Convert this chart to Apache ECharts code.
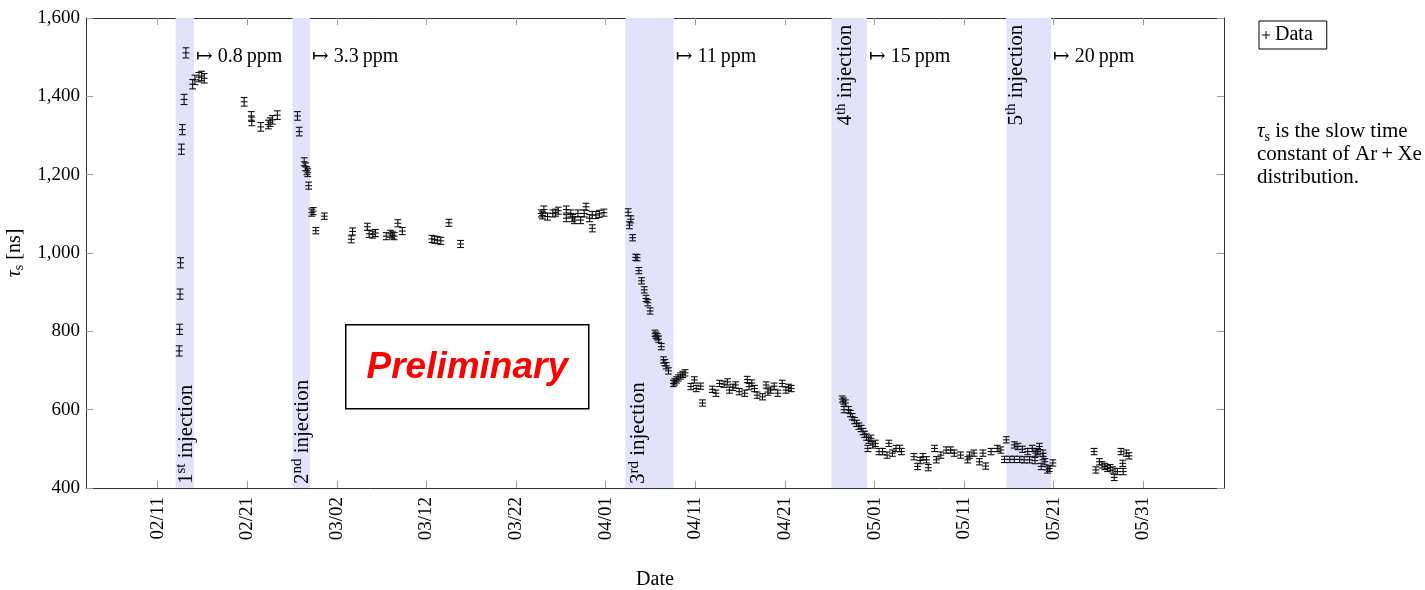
<!DOCTYPE html>
<html><head><meta charset="utf-8">
<script src="https://cdn.jsdelivr.net/npm/echarts@6/dist/echarts.min.js"></script>
<style>html,body{margin:0;padding:0;background:#fff}#c{width:1425px;height:590px}</style>
</head><body><div id="c"></div>
<script>
// x values: days since 2020-02-11 ; [day, tau_s (ns), error (ns)]
const feb13 = [[2.4,750,13],[2.45,805,13],[2.5,895,13],[2.55,975,13],[2.65,1265,13],[2.75,1315,13],[2.95,1392,13],[3.15,1511,13]];
const feb15 = [[3.9,1431,12],[4.15,1442,12],[4.6,1449,12],[4.9,1452,12],[5.2,1446,12]];
const feb21 = [[9.65,1386,11],[10.45,1350,11],[10.5,1336,11],[11.5,1322,11],[12.35,1328,11],[12.55,1334,11],[12.8,1340,11],[13.35,1352,11]];
const feb27 = [[15.6,1350,11],[15.8,1310,11],[16.35,1233,10],[16.5,1220,10],[16.65,1210,10],[16.75,1205,10],[16.85,1172,9],[17.2,1103,9],[17.35,1107,9],[17.65,1057,8],[18.6,1094,8]];
const march = [[21.6,1035,9],[21.75,1055,9],[23.4,1067,9],[23.6,1049,9],[24.0,1047,9],[24.3,1051,9],[25.5,1043,9],[26.0,1049,9],[26.2,1045,9],[26.4,1043,9],[26.8,1076,9],[27.3,1056,9],[30.6,1036,9],[30.9,1034,9],[31.2,1033,9],[31.6,1031,9],[32.5,1077,9],[33.8,1023,9]];
const lateMarch = [[42.8,1101,9],[42.95,1096,9],[43.1,1111,9],[43.5,1093,9],[44.1,1101,9],[44.4,1103,9],[44.7,1108,9],[45.6,1111,9],[45.6,1089,9],[46.1,1101,9],[46.3,1089,9],[46.5,1084,9],[46.9,1101,9],[47.2,1084,9],[47.6,1101,9],[47.8,1118,9],[48.2,1089,9],[48.5,1097,9],[48.5,1063,9],[48.9,1097,9],[49.3,1100,9],[49.8,1103,9]];
const thirdDecay = [[52.5,1104,9],[52.65,1071,9],[52.8,1086,9],[53.0,1039,8],[53.35,989,8],[53.5,988,8],[53.7,955,8],[54.0,929,8],[54.3,906,8],[54.5,884,8],[54.7,873,8],[54.95,852,8],[55.5,795,8],[55.6,790,8],[55.75,786,8],[55.9,780,8],[56.2,761,8],[56.45,727,8],[56.6,720,8],[56.75,712,8],[57.0,699,8]];
const aprilPlateau = [[57.55,667,8],[57.7,671,8],[57.9,676,8],[58.1,681,8],[58.35,686,8],[58.6,690,8],[58.85,694,8],[59.5,659,8],[59.9,676,8],[60.1,654,8],[60.6,660,8],[60.8,617,8],[61.9,652,8],[62.3,642,8],[62.7,667,8],[63.2,665,8],[63.6,671,8],[63.8,650,8],[64.2,657,8],[64.5,663,8],[64.9,646,8],[65.5,642,8],[65.8,677,8],[66.0,659,8],[66.3,668,8],[66.6,654,8],[66.9,637,8],[67.5,633,8],[67.9,663,8],[68.1,645,8],[68.4,650,8],[68.8,660,8],[69.2,642,8],[69.7,667,8],[70.1,650,8],[70.4,657,8],[70.7,654,8]];
const fourthDecay = [[76.4,627,8],[76.55,622,8],[76.75,617,8],[76.6,600,8],[77.1,600,8],[77.3,590,8],[77.5,582,8],[77.75,572,8],[78.0,565,8],[78.25,558,8],[78.5,552,8],[78.7,544,8],[78.9,537,8],[79.1,530,8],[79.25,501,8],[79.35,522,8],[79.6,527,8],[79.8,510,8],[80.1,514,8],[80.5,493,8],[80.9,493,8],[81.4,484,8],[81.6,514,8],[82.0,489,8],[82.4,501,8],[82.8,501,8],[83.0,493,8]];
const earlyMay = [[84.4,480,8],[84.8,455,8],[85.1,470,8],[85.4,480,8],[85.8,472,8],[86.0,452,8],[86.7,501,8],[86.9,472,8],[87.4,484,8],[88.0,497,8],[88.5,497,8],[88.9,489,8],[89.6,484,8],[90.4,472,8],[90.6,484,8],[91.1,489,8],[91.7,467,8],[92.1,489,8],[92.4,456,8],[93.0,493,8],[93.7,501,8],[94.1,497,8]];
const fifthPeriod = [[94.7,523,8],[94.5,473,8],[95.1,473,8],[95.6,473,8],[96.2,473,8],[96.7,472,8],[97.3,472,8],[97.9,470,8],[95.6,510,8],[96.0,506,8],[96.5,499,8],[97.1,493,8],[97.6,501,8],[98.0,489,8],[98.2,493,8],[98.4,506,8],[98.6,455,8],[98.8,489,8],[98.8,480,8],[99.0,467,8],[99.3,446,8],[99.5,450,8],[99.9,464,8]];
const lateMay = [[104.5,493,8],[104.7,446,8],[105.1,467,8],[105.4,459,8],[105.7,455,8],[106.0,450,8],[106.3,452,8],[106.6,446,8],[106.75,427,8],[107.1,442,8],[107.5,493,8],[107.7,463,8],[107.75,442,8],[108.1,489,8],[108.4,482,8]];

// injection periods
const bandStart = [2.0, 15.05, 52.2, 75.2, 94.7];
const bandEnd = [4.05, 17.0, 57.6, 79.15, 99.7];
const injNumber = ['1','2','3','4','5'];
const injSuffix = ['st','nd','rd','th','th'];
const injLabelDay = [3.05, 16.0, 53.6, 76.7, 95.7];
const injLabelTop = [false, false, false, true, true];
const ppmLabels = ['0.8', '3.3', '11', '15', '20'];
const ppmLabelValue = 1500;

// axes
const xMin = -8, xMax = 119;
const dayTicks = [0,10,20,30,40,50,60,70,80,90,100,110];
const yMin = 400, yMax = 1600, yStep = 200;

const SERIF = '"Liberation Serif", "DejaVu Serif", serif';
const allData = [].concat(feb13, feb15, feb21, feb27, march, lateMarch, thirdDecay, aprilPlateau, fourthDecay, earlyMay, fifthPeriod, lateMay);

function fmtDate(v) {
  const d = new Date(Date.UTC(2020, 1, 11) + v * 86400000);
  const mm = String(d.getUTCMonth() + 1).padStart(2, '0');
  const dd = String(d.getUTCDate()).padStart(2, '0');
  return mm + '/' + dd;
}
function fmtNum(v) { return String(v).replace(/\B(?=(\d{3})+(?!\d))/g, ','); }

function renderPoint(params, api) {
  const d = api.value(0), v = api.value(1), e = api.value(2);
  const c = api.coord([d, v]);
  const t = api.coord([d, v + e])[1];
  const b = api.coord([d, v - e])[1];
  const w = 3.4;
  const st = {stroke: '#111', lineWidth: 1.1, fill: null};
  return {type: 'group', children: [
    {type: 'line', shape: {x1: c[0], y1: t, x2: c[0], y2: b}, style: st},
    {type: 'line', shape: {x1: c[0] - w, y1: t, x2: c[0] + w, y2: t}, style: st},
    {type: 'line', shape: {x1: c[0] - w, y1: b, x2: c[0] + w, y2: b}, style: st},
    {type: 'line', shape: {x1: c[0] - w, y1: c[1], x2: c[0] + w, y2: c[1]}, style: st}
  ]};
}

const richInj = {
  n: {fontFamily: SERIF, fontSize: 21, lineHeight: 23, verticalAlign: 'bottom', fill: '#000', color: '#000'},
  s: {fontFamily: SERIF, fontSize: 15, lineHeight: 15, verticalAlign: 'top', fill: '#000', color: '#000'}
};

function renderBand(params, api) {
  const i = api.value(2);
  const cs = params.coordSys;
  const x0 = api.coord([api.value(0), yMax])[0];
  const x1 = api.coord([api.value(1), yMax])[0];
  const pp = api.coord([api.value(1), ppmLabelValue]);
  const top = injLabelTop[i];
  const lp = api.coord([injLabelDay[i], top ? 1583 : 410]);
  return {type: 'group', children: [
    {type: 'rect', shape: {x: x0, y: cs.y, width: x1 - x0, height: cs.height}, style: {fill: '#e2e2fb'}},
    {type: 'text', x: pp[0] + 2, y: pp[1], style: {text: '\u21A6 ' + ppmLabels[i] + '\u2009ppm', font: '20px ' + SERIF, fill: '#000', align: 'left', verticalAlign: 'middle'}},
    {type: 'text', x: lp[0], y: lp[1], rotation: Math.PI / 2, style: {text: '{n|' + injNumber[i] + '}{s|' + injSuffix[i] + '}{n| injection}', rich: richInj, fill: '#000', align: top ? 'right' : 'left', verticalAlign: 'middle'}}
  ]};
}

const tickLine = {color: '#999', width: 1};
const axisLine = {show: true, onZero: false, lineStyle: {color: '#333', width: 1}};

const option = {
  animation: false,
  backgroundColor: '#fff',
  grid: {left: 86, right: 201, top: 18, bottom: 102, containLabel: false, outerBoundsMode: 'none'},
  legend: {
    left: 1259, top: 21, selectedMode: false,
    data: [{name: 'Data', icon: 'path://M0,3.5H3.5V0H4.5V3.5H8V4.5H4.5V8H3.5V4.5H0Z'}],
    itemWidth: 8, itemHeight: 8, padding: [4, 14, 4, 3],
    borderColor: '#000', borderWidth: 1, borderRadius: 0,
    itemStyle: {color: '#000'},
    textStyle: {fontFamily: SERIF, fontSize: 20, color: '#000'}
  },
  xAxis: [
    {type: 'value', min: xMin, max: xMax, position: 'bottom',
      name: 'Date', nameLocation: 'middle', nameGap: 82,
      nameTextStyle: {fontFamily: SERIF, fontSize: 20, color: '#000'},
      axisLine: axisLine,
      axisTick: {show: true, inside: true, length: 7, customValues: dayTicks, lineStyle: tickLine},
      axisLabel: {customValues: dayTicks, rotate: 90, margin: 9, formatter: fmtDate, color: '#000', fontFamily: SERIF, fontSize: 19},
      splitLine: {show: false}},
    {type: 'value', min: xMin, max: xMax, position: 'top',
      axisLine: axisLine,
      axisTick: {show: true, inside: true, length: 7, customValues: dayTicks, lineStyle: tickLine},
      axisLabel: {show: false}, splitLine: {show: false}}
  ],
  yAxis: [
    {type: 'value', min: yMin, max: yMax, interval: yStep, position: 'left',
      name: '{it|\u03C4}{sub|s}{n| [ns]}', nameLocation: 'middle', nameRotate: 90, nameGap: 51,
      nameTextStyle: {rich: {
        it: {fontFamily: SERIF, fontSize: 20, fontStyle: 'italic', color: '#000', lineHeight: 22, verticalAlign: 'top'},
        sub: {fontFamily: SERIF, fontSize: 14, color: '#000', lineHeight: 14, verticalAlign: 'bottom'},
        n: {fontFamily: SERIF, fontSize: 20, color: '#000', lineHeight: 22, verticalAlign: 'top'}
      }},
      axisLine: axisLine,
      axisTick: {show: true, inside: true, length: 7, lineStyle: tickLine},
      axisLabel: {margin: 6, formatter: fmtNum, color: '#000', fontFamily: SERIF, fontSize: 19},
      splitLine: {show: false}},
    {type: 'value', min: yMin, max: yMax, interval: yStep, position: 'right',
      axisLine: axisLine,
      axisTick: {show: true, inside: true, length: 7, lineStyle: tickLine},
      axisLabel: {show: false}, splitLine: {show: false}}
  ],
  series: [
    {type: 'custom', name: 'bands', silent: true, clip: true, z: 1,
      xAxisIndex: 0, yAxisIndex: 0,
      data: bandStart.map((s, i) => [s, bandEnd[i], i]),
      renderItem: renderBand},
    {type: 'custom', name: 'Data', clip: true, z: 3,
      xAxisIndex: 0, yAxisIndex: 0,
      encode: {x: 0, y: 1},
      itemStyle: {color: '#000'},
      data: allData,
      renderItem: renderPoint}
  ],
  graphic: [
    {type: 'group', left: 345, top: 324, z: 10, children: [
      {type: 'rect', shape: {x: 0, y: 0, width: 243, height: 84}, style: {fill: '#fff', stroke: '#000', lineWidth: 1.5}},
      {type: 'text', x: 121.5, y: 43, style: {text: 'Preliminary', fill: '#f00', font: 'italic bold 37px "Liberation Sans", Arial, sans-serif', align: 'center', verticalAlign: 'middle'}}
    ]},
    {type: 'text', left: 1257, top: 121, z: 10, style: {
      text: '{it|\u03C4}{sub|s}{n| is the slow time}\n{n|constant of Ar\u2009+\u2009Xe}\n{n|distribution.}',
      rich: {
        it: {fontFamily: SERIF, fontSize: 21, fontStyle: 'italic', fill: '#000', lineHeight: 23, verticalAlign: 'top'},
        sub: {fontFamily: SERIF, fontSize: 14, fill: '#000', lineHeight: 14, verticalAlign: 'bottom'},
        n: {fontFamily: SERIF, fontSize: 21, fill: '#000', lineHeight: 23, verticalAlign: 'top'}
      }
    }}
  ]
};

const chart = echarts.init(document.getElementById('c'), null, {renderer: 'canvas'});
chart.setOption(option);
</script></body></html>
